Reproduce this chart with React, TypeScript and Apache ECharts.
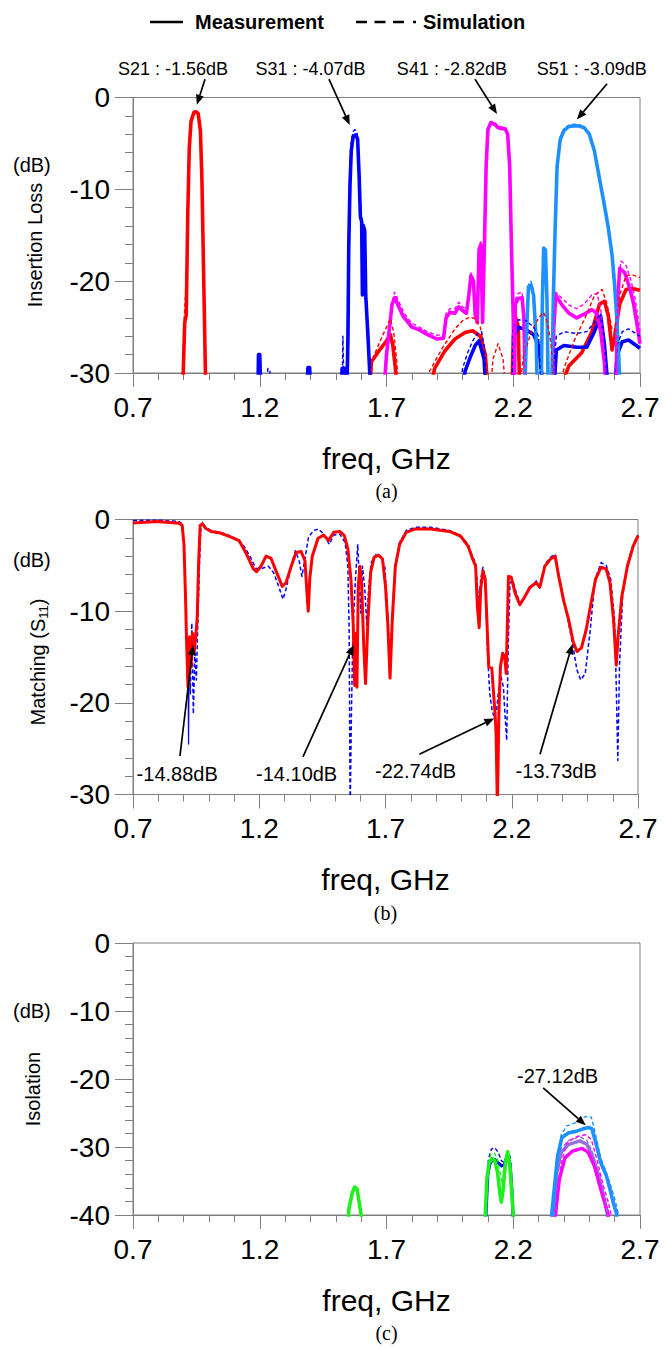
import React, { useEffect, useRef } from "react";
import * as echarts from "echarts";

type Pt = [number, number];
type Seg = Pt[];

const FONT = "'Liberation Sans', Arial, Helvetica, sans-serif";
const SERIF = "'Liberation Serif', 'Times New Roman', serif";

const RED = "#ff0000";
const BLUE = "#0000ff";
const MAGENTA = "#ff00ff";
const LBLUE = "#1e90ff";
const GREEN = "#1ef01e";
const PURPLE = "#9370db";

const X_MIN = 0.7;
const X_MAX = 2.7;
const X_STEP = 0.5;

// ---------- (a) Insertion loss ----------
const s21Meas: Seg[] = [
  [[0.896, -32], [0.904, -24.5], [0.91, -23.7], [0.916, -12.8], [0.922, -5.5], [0.929, -2.6], [0.94, -1.64], [0.949, -1.56], [0.957, -1.75], [0.966, -3.65], [0.972, -9.1], [0.978, -18.3], [0.987, -32]],
  [[1.635, -32], [1.64, -28.8], [1.67, -27.6], [1.7, -26.5], [1.715, -25.8], [1.725, -27], [1.735, -29.5], [1.742, -32]],
  [[1.87, -32], [1.89, -29.5], [1.93, -27.6], [1.97, -26.3], [2.01, -25.6], [2.04, -25.4], [2.07, -26], [2.09, -28], [2.1, -32]],
  [[2.195, -32], [2.2, -26], [2.21, -24], [2.22, -25], [2.225, -32]],
  [[2.38, -32], [2.42, -29.2], [2.47, -27.8], [2.51, -25.5], [2.54, -22.5], [2.56, -22.2], [2.575, -23.8], [2.59, -27.5], [2.6, -26], [2.62, -22.5], [2.645, -20.9], [2.67, -20.8], [2.7, -21]],
];
const s21Sim: Seg[] = [
  [[0.894, -32], [0.902, -24], [0.91, -20], [0.916, -11.5], [0.922, -5], [0.929, -2.4], [0.94, -1.5], [0.949, -1.45], [0.957, -1.65], [0.966, -3.5], [0.972, -8.8], [0.978, -18], [0.988, -32]],
  [[1.632, -32], [1.645, -28.5], [1.68, -26.2], [1.715, -24.1], [1.728, -25.5], [1.74, -28.5], [1.748, -32]],
  [[1.855, -32], [1.87, -29.8], [1.92, -27.3], [1.97, -25.2], [2.0, -24.3], [2.03, -23.9], [2.05, -24.1], [2.07, -25], [2.09, -28], [2.1, -32]],
  [[2.11, -32], [2.12, -28.5], [2.14, -26.8], [2.16, -28.5], [2.17, -32]],
  [[2.225, -32], [2.24, -28.2], [2.27, -25.6], [2.3, -24], [2.32, -23.4], [2.335, -24.5], [2.35, -27], [2.36, -32]],
  [[2.38, -32], [2.4, -29.5], [2.44, -26.5], [2.48, -24.2], [2.52, -21.6], [2.55, -20.9], [2.57, -22.5], [2.59, -25.3], [2.6, -25.5], [2.62, -21.5], [2.645, -19.4], [2.67, -19.3], [2.7, -19.6]],
];
const s31Meas: Seg[] = [
  [[1.193, -32], [1.195, -28], [1.2, -28], [1.202, -30], [1.205, -32]],
  [[1.385, -32], [1.39, -29.4], [1.397, -29.4], [1.4, -32]],
  [[1.52, -32], [1.525, -29.5], [1.535, -29.5], [1.54, -32]],
  [[1.544, -32], [1.548, -26], [1.551, -16.4], [1.556, -9.5], [1.561, -5.8], [1.568, -4.3], [1.578, -4.07], [1.586, -4.5], [1.592, -8.5], [1.597, -13], [1.602, -13.5], [1.605, -21.5], [1.609, -14], [1.614, -14.5], [1.618, -21.5], [1.626, -25.5], [1.634, -30], [1.637, -32]],
  [[2.0, -32], [2.01, -29.8], [2.03, -28.3], [2.05, -27], [2.065, -26.5], [2.075, -27.5], [2.085, -28.5], [2.092, -32]],
  [[2.2, -32], [2.205, -26], [2.22, -25], [2.25, -25.3], [2.28, -25.8], [2.3, -27], [2.32, -32]],
  [[2.36, -32], [2.37, -27.5], [2.4, -27], [2.45, -27.2], [2.49, -27.2], [2.52, -25.5], [2.545, -23.8], [2.56, -27], [2.575, -32]],
  [[2.6, -32], [2.61, -28], [2.63, -26.6], [2.655, -26.4], [2.7, -27.3]],
];
const s31Sim: Seg[] = [
  [[1.225, -32], [1.232, -29.5], [1.24, -29.8], [1.245, -32]],
  [[1.386, -32], [1.392, -29.6], [1.398, -29.8], [1.401, -32]],
  [[1.525, -32], [1.528, -26], [1.531, -30], [1.535, -32]],
  [[1.54, -32], [1.546, -25], [1.55, -15], [1.555, -8.5], [1.561, -5], [1.568, -3.7], [1.576, -3.5], [1.585, -4], [1.592, -8], [1.597, -12.5], [1.603, -13.2], [1.606, -21], [1.61, -13.8], [1.615, -14.8], [1.62, -22], [1.628, -26], [1.636, -30], [1.64, -32]],
  [[1.99, -32], [2.0, -29.5], [2.02, -27.8], [2.04, -26.5], [2.06, -25.7], [2.075, -25.5], [2.085, -27], [2.095, -32]],
  [[2.195, -32], [2.2, -25], [2.22, -24.2], [2.25, -24.3], [2.28, -25], [2.3, -26], [2.31, -32]],
  [[2.35, -32], [2.37, -26], [2.4, -25.5], [2.45, -25.7], [2.49, -25.5], [2.52, -24.5], [2.545, -23.5], [2.56, -26.5], [2.57, -32]],
  [[2.6, -32], [2.61, -27], [2.63, -25.5], [2.655, -25.2], [2.7, -26]],
];
const s41Meas: Seg[] = [
  [[1.69, -32], [1.7, -28], [1.71, -25.5], [1.722, -22.5], [1.733, -21.8], [1.745, -22.6], [1.765, -23.8], [1.8, -25], [1.83, -25.3], [1.86, -25.8], [1.9, -26.3], [1.925, -26.2], [1.935, -24], [1.95, -23.4], [1.97, -23.5], [1.985, -22.8], [2.0, -23.2], [2.015, -23.5], [2.025, -21.5], [2.033, -19.4], [2.043, -20], [2.05, -23.7], [2.058, -24.5], [2.065, -16.6], [2.072, -16], [2.079, -24.5], [2.086, -16.5], [2.093, -7.5], [2.1, -3.5], [2.11, -2.82], [2.12, -2.82], [2.13, -3.0], [2.14, -3.3], [2.155, -3.4], [2.168, -3.4], [2.178, -4], [2.186, -7.5], [2.193, -16.4], [2.2, -24], [2.204, -32]],
  [[2.205, -32], [2.208, -22.5], [2.22, -21.9], [2.235, -21.8], [2.242, -24], [2.248, -32]],
  [[2.355, -32], [2.36, -25], [2.368, -21.5], [2.39, -22.5], [2.42, -23.5], [2.45, -24], [2.48, -23.6], [2.51, -23.1], [2.53, -23.5], [2.545, -25.5], [2.56, -29], [2.565, -32]],
  [[2.605, -32], [2.612, -22], [2.62, -18.6], [2.64, -19.1], [2.66, -20.8], [2.675, -22.5], [2.69, -25], [2.7, -26.8]],
];
const s41Sim: Seg[] = [
  [[1.69, -32], [1.705, -27], [1.72, -22.5], [1.732, -21.2], [1.745, -22], [1.77, -23.5], [1.8, -24.6], [1.83, -25], [1.86, -25.5], [1.9, -25.9], [1.925, -25.8], [1.935, -23.5], [1.95, -23], [1.97, -23], [1.985, -22.3], [2.0, -22.8], [2.015, -23], [2.025, -21.2], [2.033, -19.1], [2.043, -19.7], [2.05, -23.2], [2.058, -24], [2.065, -16.3], [2.072, -15.7], [2.079, -24], [2.086, -16.2], [2.093, -7.2], [2.1, -3.3], [2.11, -2.6], [2.12, -2.6], [2.13, -2.8], [2.14, -3.1], [2.155, -3.2], [2.168, -3.2], [2.178, -3.8], [2.186, -7.2], [2.193, -16], [2.2, -23.5], [2.204, -32]],
  [[2.205, -32], [2.208, -22], [2.22, -21.3], [2.235, -21.2], [2.242, -23.5], [2.248, -32]],
  [[2.355, -32], [2.36, -24], [2.368, -21.2], [2.39, -21.8], [2.42, -22.6], [2.45, -23], [2.48, -22.5], [2.51, -21.5], [2.53, -21.3], [2.545, -23], [2.56, -28], [2.565, -32]],
  [[2.605, -32], [2.612, -21], [2.625, -17.8], [2.645, -18.3], [2.665, -20], [2.68, -21.8], [2.69, -23.5], [2.7, -25.5]],
];
const s51Meas: Seg[] = [
  [[2.245, -32], [2.252, -26], [2.26, -20.6], [2.27, -20.4], [2.28, -21.5], [2.29, -26], [2.295, -32]],
  [[2.31, -32], [2.315, -22], [2.32, -16.4], [2.327, -16.6], [2.333, -22], [2.338, -32]],
  [[2.352, -32], [2.358, -22], [2.365, -14.5], [2.373, -7.5], [2.385, -4.6], [2.4, -3.6], [2.42, -3.15], [2.44, -3.09], [2.46, -3.1], [2.48, -3.3], [2.5, -4], [2.52, -5.8], [2.54, -8.8], [2.56, -11.8], [2.575, -14.2], [2.59, -17.2], [2.6, -20.5], [2.608, -23.9], [2.615, -27.5], [2.622, -32]],
];
const s51Sim: Seg[] = [
  [[2.246, -32], [2.253, -25], [2.261, -20.2], [2.27, -20], [2.28, -21], [2.29, -25.5], [2.295, -32]],
  [[2.352, -32], [2.358, -21], [2.365, -14], [2.373, -7.2], [2.385, -4.3], [2.4, -3.4], [2.42, -3.0], [2.44, -2.9], [2.46, -2.95], [2.48, -3.2], [2.5, -3.9], [2.52, -5.6], [2.54, -8.5], [2.56, -11.5], [2.575, -14], [2.59, -17], [2.6, -20.3], [2.608, -23.7], [2.615, -27.3], [2.622, -32]],
];

// ---------- (b) Matching S11 ----------
const s11Meas: Seg[] = [[
  [0.7, -0.37], [0.794, -0.22], [0.883, -0.4], [0.895, -0.66], [0.902, -2.86], [0.908, -8.4], [0.912, -13.1], [0.918, -18.3], [0.924, -12.8], [0.93, -16.1], [0.936, -12.4], [0.942, -14.6], [0.948, -12.8], [0.954, -10.9], [0.96, -4.7], [0.966, -0.66], [0.975, -0.48], [0.987, -0.95], [1.009, -1.3], [1.046, -1.47], [1.091, -1.94], [1.12, -2.3], [1.15, -3.8], [1.177, -5.4], [1.189, -5.7], [1.207, -5.1], [1.227, -4.0], [1.247, -4.25], [1.269, -5.8], [1.291, -7.3], [1.306, -6.9], [1.329, -4.9], [1.346, -3.6], [1.366, -3.5], [1.381, -4.5], [1.388, -7.6], [1.394, -10.0], [1.4, -6.5], [1.41, -4.0], [1.433, -2.05], [1.455, -1.7], [1.474, -2.3], [1.495, -1.4], [1.519, -1.3], [1.537, -1.76], [1.551, -3.2], [1.563, -6.5], [1.572, -11.3], [1.578, -18.1], [1.582, -12.4], [1.587, -18.3], [1.592, -7.3], [1.599, -5.1], [1.606, -7.3], [1.614, -13.9], [1.621, -17.9], [1.63, -11.3], [1.641, -5.8], [1.655, -4.1], [1.673, -3.9], [1.688, -4.3], [1.7, -7.3], [1.709, -11.3], [1.718, -17.3], [1.727, -10.9], [1.739, -5.1], [1.756, -2.7], [1.782, -1.4], [1.819, -1.03], [1.878, -1.03], [1.953, -1.3], [1.997, -1.8], [2.027, -2.9], [2.045, -4.3], [2.057, -5.1], [2.064, -9.5], [2.071, -11.8], [2.077, -7.6], [2.086, -5.6], [2.095, -6.5], [2.103, -12.0], [2.109, -16.1], [2.121, -16.2], [2.128, -19.0], [2.134, -21.2], [2.138, -23.4], [2.143, -31.5], [2.149, -21.2], [2.155, -16.1], [2.164, -14.6], [2.172, -15], [2.178, -16.8], [2.187, -6.2], [2.198, -6.3], [2.213, -8.0], [2.232, -9.3], [2.25, -8.5], [2.272, -7.4], [2.297, -6.9], [2.311, -7.4], [2.331, -5.1], [2.354, -4.3], [2.372, -4.0], [2.386, -6.2], [2.406, -8.9], [2.425, -10.9], [2.443, -13.3], [2.458, -14.4], [2.476, -14.0], [2.495, -12.0], [2.514, -9.1], [2.532, -6.5], [2.554, -5.2], [2.574, -5.4], [2.589, -6.9], [2.603, -10.9], [2.614, -15.9], [2.621, -12.8], [2.636, -8.4], [2.658, -5.1], [2.681, -2.9], [2.7, -1.76],
]];
const s11Sim: Seg[] = [[
  [0.7, -0.11], [0.794, -0.07], [0.883, -0.22], [0.895, -0.48], [0.902, -2.5], [0.91, -10.2], [0.915, -17.5], [0.921, -14.6], [0.927, -19.0], [0.933, -11.3], [0.939, -21.2], [0.945, -14.6], [0.951, -17.5], [0.957, -10.9], [0.963, -5.1], [0.969, -0.66], [0.976, -0.3], [0.987, -0.84], [1.009, -1.2], [1.046, -1.4], [1.091, -1.83], [1.135, -2.7], [1.165, -4.1], [1.187, -5.35], [1.21, -5.35], [1.236, -5.1], [1.257, -5.8], [1.277, -7.3], [1.294, -8.7], [1.306, -7.6], [1.326, -5.1], [1.343, -3.4], [1.358, -4.5], [1.369, -6.2], [1.381, -4.3], [1.395, -1.94], [1.415, -1.2], [1.435, -1.03], [1.455, -1.6], [1.477, -2.7], [1.495, -1.7], [1.519, -1.6], [1.54, -2.5], [1.551, -5.1], [1.556, -12.0], [1.56, -32], [1.565, -21.2], [1.571, -12], [1.581, -6.5], [1.59, -2.7], [1.596, -6.5], [1.602, -10.2], [1.609, -5.1], [1.618, -7.6], [1.626, -11.5], [1.633, -7.6], [1.643, -4.7], [1.663, -3.8], [1.681, -4.0], [1.697, -5.1], [1.707, -9.5], [1.718, -17.0], [1.727, -10.2], [1.739, -4.9], [1.756, -2.5], [1.782, -1.2], [1.819, -0.84], [1.878, -0.84], [1.953, -1.2], [1.997, -1.76], [2.027, -2.7], [2.045, -4.1], [2.057, -4.7], [2.066, -8.0], [2.071, -8.7], [2.077, -6.5], [2.086, -5.2], [2.095, -6.5], [2.104, -14.6], [2.113, -19.0], [2.122, -20.8], [2.131, -21.6], [2.14, -20.8], [2.149, -18.3], [2.158, -17.2], [2.167, -18.3], [2.173, -21.2], [2.18, -24.1], [2.186, -13.9], [2.193, -6.9], [2.205, -6.7], [2.22, -8.2], [2.235, -9.1], [2.257, -8.2], [2.28, -7.3], [2.297, -6.7], [2.311, -7.2], [2.331, -4.9], [2.354, -4.1], [2.372, -3.8], [2.386, -6.0], [2.406, -8.7], [2.425, -11.3], [2.443, -13.9], [2.458, -16.4], [2.473, -17.5], [2.491, -16.8], [2.511, -12.0], [2.53, -6.5], [2.554, -4.7], [2.574, -5.0], [2.592, -6.5], [2.607, -10.9], [2.614, -18.3], [2.62, -26.3], [2.627, -15.7], [2.639, -8.4], [2.658, -4.9], [2.681, -2.7], [2.7, -1.7],
]];
const s11SimSpike: Seg[] = [[[0.917, -13], [0.92, -24.5], [0.923, -13]]];

// ---------- (c) Isolation ----------
const isoGreenMeas: Seg[] = [
  [[1.547, -42], [1.552, -39], [1.558, -38], [1.566, -36.6], [1.575, -35.9], [1.584, -36.2], [1.592, -38.1], [1.6, -40], [1.603, -42]],
  [[2.088, -42], [2.09, -39.8], [2.096, -34.7], [2.105, -32.3], [2.116, -31.7], [2.127, -32.0], [2.138, -33.7], [2.147, -36.7], [2.153, -38.1], [2.16, -36.2], [2.169, -32.3], [2.178, -30.7], [2.187, -32.8], [2.194, -36.7], [2.2, -39.8], [2.202, -42]],
];
const isoGreenSim: Seg[] = [
  [[1.549, -42], [1.555, -38.5], [1.566, -36.3], [1.576, -35.7], [1.586, -36.3], [1.596, -39], [1.601, -42]],
  [[2.089, -42], [2.093, -38], [2.101, -32.8], [2.111, -31.1], [2.126, -30.9], [2.138, -31.8], [2.148, -33.7], [2.156, -35.4], [2.165, -33.7], [2.175, -30.9], [2.185, -31.8], [2.194, -35.7], [2.2, -39.5], [2.203, -42]],
];
const isoBlueMeas: Seg[] = [
  [[2.09, -42], [2.1, -34], [2.11, -32.2], [2.125, -31.8], [2.14, -32.3], [2.155, -32.8], [2.165, -32.6], [2.177, -31.2], [2.188, -32.5], [2.196, -37], [2.2, -42]],
];
const isoBlueSim: Seg[] = [
  [[2.089, -42], [2.093, -37], [2.102, -31.8], [2.114, -30.3], [2.127, -30.1], [2.141, -30.8], [2.153, -32.0], [2.165, -32.3], [2.176, -30.7], [2.187, -31.3], [2.194, -35.7], [2.2, -39.8], [2.202, -42]],
];
const isoLBlueMeas: Seg[] = [
  [[2.35, -42], [2.352, -39.8], [2.363, -35.7], [2.375, -31.3], [2.392, -28.6], [2.419, -27.9], [2.448, -27.7], [2.478, -27.3], [2.496, -27.12], [2.51, -27.3], [2.526, -29.4], [2.545, -32.3], [2.567, -34.2], [2.585, -36.7], [2.596, -38.4], [2.608, -39.8], [2.611, -42]],
];
const isoLBlueSim: Seg[] = [
  [[2.358, -42], [2.362, -39.8], [2.375, -31.8], [2.389, -28.2], [2.411, -26.9], [2.448, -26.4], [2.486, -25.5], [2.508, -25.6], [2.523, -27.9], [2.545, -31.6], [2.567, -33.7], [2.589, -36.2], [2.604, -38.1], [2.614, -39.8], [2.617, -42]],
];
const isoPurpleMeas: Seg[] = [
  [[2.357, -42], [2.36, -39.8], [2.372, -33.7], [2.389, -30.8], [2.419, -29.6], [2.463, -29.1], [2.49, -29.6], [2.51, -31.1], [2.537, -34.2], [2.559, -37.6], [2.571, -39.8], [2.574, -42]],
];
const isoPurpleSim: Seg[] = [
  [[2.36, -42], [2.363, -39], [2.372, -33], [2.389, -30.2], [2.419, -29], [2.463, -28.5], [2.49, -29], [2.51, -30.5], [2.537, -33.8], [2.559, -37.2], [2.573, -40], [2.576, -42]],
];
const isoMagentaMeas: Seg[] = [
  [[2.364, -42], [2.367, -39.8], [2.382, -34.7], [2.404, -31.6], [2.434, -30.6], [2.471, -30.2], [2.496, -30.8], [2.52, -32.8], [2.545, -36.2], [2.564, -38.6], [2.574, -39.8], [2.577, -42]],
];
const isoMagentaSim: Seg[] = [
  [[2.368, -42], [2.371, -39.8], [2.386, -32.8], [2.411, -29.4], [2.448, -28.5], [2.486, -28.2], [2.508, -28.9], [2.53, -31.8], [2.555, -35.7], [2.575, -38.1], [2.585, -39.8], [2.588, -42]],
];

// ---------- annotations (data coordinates) ----------
type Annot = { text: string; at: Pt; from: Pt; to: Pt };
const annotA: Annot[] = [
  { text: "S21 : -1.56dB", at: [0.858, 3.1], from: [0.984, 2.0], to: [0.952, -0.8] },
  { text: "S31 : -4.07dB", at: [1.4, 3.1], from: [1.473, 2.0], to: [1.555, -3.0] },
  { text: "S41 : -2.82dB", at: [1.958, 3.1], from: [2.049, 2.0], to: [2.136, -1.8] },
  { text: "S51 : -3.09dB", at: [2.51, 3.1], from: [2.57, 1.5], to: [2.451, -2.4] },
];
const annotB: Annot[] = [
  { text: "-14.88dB", at: [0.875, -27.8], from: [0.886, -25.8], to: [0.938, -13.7] },
  { text: "-14.10dB", at: [1.348, -27.8], from: [1.373, -25.9], to: [1.574, -13.7] },
  { text: "-22.74dB", at: [1.819, -27.4], from: [1.834, -25.6], to: [2.131, -21.7] },
  { text: "-13.73dB", at: [2.376, -27.4], from: [2.312, -25.6], to: [2.44, -13.6] },
];
const annotC: Annot[] = [
  { text: "-27.12dB", at: [2.375, -19.6], from: [2.318, -21.3], to: [2.486, -26.8] },
];

type Curve = { segs: Seg[]; color: string; sim: boolean; width: number };

const curvesA: Curve[] = [
  { segs: s21Meas, color: RED, sim: false, width: 3.6 },
  { segs: s31Meas, color: BLUE, sim: false, width: 3.6 },
  { segs: s41Meas, color: MAGENTA, sim: false, width: 3.6 },
  { segs: s51Meas, color: LBLUE, sim: false, width: 3.6 },
  { segs: s21Sim, color: RED, sim: true, width: 1.4 },
  { segs: s31Sim, color: BLUE, sim: true, width: 1.4 },
  { segs: s41Sim, color: MAGENTA, sim: true, width: 1.4 },
  { segs: s51Sim, color: LBLUE, sim: true, width: 1.4 },
];
const curvesB: Curve[] = [
  { segs: s11Sim, color: BLUE, sim: true, width: 1.5 },
  { segs: s11SimSpike, color: BLUE, sim: false, width: 1.2 },
  { segs: s11Meas, color: RED, sim: false, width: 3 },
];
const curvesC: Curve[] = [
  { segs: isoPurpleMeas, color: PURPLE, sim: false, width: 3.4 },
  { segs: isoMagentaMeas, color: MAGENTA, sim: false, width: 3.4 },
  { segs: isoPurpleSim, color: PURPLE, sim: true, width: 1.4 },
  { segs: isoMagentaSim, color: MAGENTA, sim: true, width: 1.4 },
  { segs: isoLBlueMeas, color: LBLUE, sim: false, width: 3.6 },
  { segs: isoLBlueSim, color: LBLUE, sim: true, width: 1.4 },
  { segs: isoBlueMeas, color: BLUE, sim: false, width: 3 },
  { segs: isoBlueSim, color: BLUE, sim: true, width: 1.4 },
  { segs: isoGreenMeas, color: GREEN, sim: false, width: 3.6 },
  { segs: isoGreenSim, color: GREEN, sim: true, width: 1.4 },
];

const GRIDS = [
  { left: 133, top: 97.5, width: 507, height: 275.5, yMin: -30 },
  { left: 133, top: 519.5, width: 505, height: 275, yMin: -30 },
  { left: 133, top: 943, width: 507, height: 272, yMin: -40 },
];

const GRAY = "#7f7f7f";

function buildSeries(curves: Curve[], g: number) {
  const out: any[] = [];
  curves.forEach((c, ci) => {
    c.segs.forEach((seg) => {
      out.push({
        type: "line",
        xAxisIndex: g,
        yAxisIndex: g,
        data: seg,
        symbol: "none",
        showSymbol: false,
        clip: true,
        silent: true,
        z: 2 + ci * 0.01,
        lineStyle: {
          color: c.color,
          width: c.width,
          type: c.sim ? [4, 2.5] : "solid",
          cap: "butt",
          join: "round",
        },
      });
    });
  });
  return out;
}

export default function App() {
  const ref = useRef<HTMLDivElement | null>(null);

  useEffect(() => {
    if (!ref.current) return;
    const chart = echarts.init(ref.current, undefined, { renderer: "svg" });

    const grid = GRIDS.map((g) => ({
      left: g.left,
      top: g.top,
      width: g.width,
      height: g.height,
      show: true,
      borderColor: GRAY,
      borderWidth: 1,
      backgroundColor: "transparent",
      containLabel: false,
    }));

    const xAxis = GRIDS.map((g, i) => ({
      type: "value",
      gridIndex: i,
      min: X_MIN,
      max: X_MAX,
      interval: X_STEP,
      name: "freq, GHz",
      nameLocation: "middle",
      nameGap: 70,
      nameTextStyle: { fontFamily: FONT, fontSize: 30, color: "#000" },
      axisLine: { show: true, onZero: false, lineStyle: { color: GRAY, width: 1 } },
      axisTick: { show: true, length: 14, lineStyle: { color: GRAY } },
      minorTick: { show: true, splitNumber: 5, length: 7, lineStyle: { color: GRAY } },
      splitLine: { show: false },
      minorSplitLine: { show: false },
      axisLabel: {
        fontFamily: FONT,
        fontSize: 28,
        color: "#000",
        margin: 20,
        formatter: (v: number) => v.toFixed(1),
      },
    }));

    const yAxis = GRIDS.map((g, i) => ({
      type: "value",
      gridIndex: i,
      min: g.yMin,
      max: 0,
      interval: 10,
      axisLine: { show: true, onZero: false, lineStyle: { color: GRAY, width: 1 } },
      axisTick: { show: true, length: 18, lineStyle: { color: GRAY } },
      minorTick: { show: true, splitNumber: 5, length: 8, lineStyle: { color: GRAY } },
      splitLine: { show: false },
      minorSplitLine: { show: false },
      axisLabel: { fontFamily: FONT, fontSize: 28, color: "#000", margin: 23 },
    }));

    const series = [
      ...buildSeries(curvesA, 0),
      ...buildSeries(curvesB, 1),
      ...buildSeries(curvesC, 2),
    ];

    chart.setOption({
      animation: false,
      backgroundColor: "#ffffff",
      grid,
      xAxis,
      yAxis,
      series,
    });

    const graphics: any[] = [];

    // legend
    graphics.push(
      { type: "line", shape: { x1: 150, y1: 22, x2: 183, y2: 22 }, style: { stroke: "#000", lineWidth: 2.6 } },
      { type: "text", x: 195, y: 22, style: { text: "Measurement", fontFamily: FONT, fontSize: 20, fontWeight: "bold", fill: "#000", verticalAlign: "middle", align: "left" } },
      { type: "line", shape: { x1: 356, y1: 22, x2: 417, y2: 22 }, style: { stroke: "#000", lineWidth: 2.6, lineDash: [11, 7.5, 11, 7.5, 11, 9, 3, 40] } },
      { type: "text", x: 423, y: 22, style: { text: "Simulation", fontFamily: FONT, fontSize: 20, fontWeight: "bold", fill: "#000", verticalAlign: "middle", align: "left" } },
    );

    // y-axis names
    const yNames = [
      { dbY: 165, nameX: 35, nameY: 245, text: "Insertion Loss", rich: false },
      { dbY: 560, nameX: 38, nameY: 662, text: "{a|Matching (S}{s|11}{a|)}", rich: true },
      { dbY: 1011, nameX: 33, nameY: 1089, text: "Isolation", rich: false },
    ];
    yNames.forEach((n) => {
      graphics.push({ type: "text", x: 13, y: n.dbY, style: { text: "(dB)", fontFamily: FONT, fontSize: 20, fill: "#000", verticalAlign: "middle", align: "left" } });
      graphics.push({
        type: "text",
        x: n.nameX,
        y: n.nameY,
        rotation: Math.PI / 2,
        style: n.rich
          ? {
              text: n.text,
              align: "center",
              verticalAlign: "middle",
              fill: "#000",
              rich: {
                a: { fontFamily: FONT, fontSize: 20, fill: "#000" },
                s: { fontFamily: FONT, fontSize: 13, fill: "#000", padding: [10, 0, 0, 0] },
              },
            }
          : { text: n.text, fontFamily: FONT, fontSize: 20, fill: "#000", align: "center", verticalAlign: "middle" },
      });
    });

    // captions
    ["(a)", "(b)", "(c)"].forEach((t, i) => {
      const g = GRIDS[i];
      graphics.push({
        type: "text",
        x: g.left + g.width / 2,
        y: g.top + g.height + 118,
        style: { text: t, fontFamily: SERIF, fontSize: 20, fill: "#000", align: "center", verticalAlign: "middle" },
      });
    });

    // annotations with arrows
    const addAnnots = (list: Annot[], g: number, fontSize: number) => {
      list.forEach((a) => {
        const p = chart.convertToPixel({ gridIndex: g } as any, a.at) as number[];
        const f = chart.convertToPixel({ gridIndex: g } as any, a.from) as number[];
        const t = chart.convertToPixel({ gridIndex: g } as any, a.to) as number[];
        graphics.push({ type: "text", x: p[0], y: p[1], z: 50, style: { text: a.text, fontFamily: FONT, fontSize, fill: "#000", align: "center", verticalAlign: "middle" } });
        const dx = t[0] - f[0];
        const dy = t[1] - f[1];
        const len = Math.sqrt(dx * dx + dy * dy) || 1;
        const ux = dx / len;
        const uy = dy / len;
        const hl = 10;
        const hw = 4;
        const bx = t[0] - ux * hl;
        const by = t[1] - uy * hl;
        graphics.push({ type: "line", z: 50, shape: { x1: f[0], y1: f[1], x2: bx, y2: by }, style: { stroke: "#000", lineWidth: 1.7 } });
        graphics.push({
          type: "polygon",
          z: 50,
          shape: { points: [[t[0], t[1]], [bx - uy * hw, by + ux * hw], [bx + uy * hw, by - ux * hw]] },
          style: { fill: "#000" },
        });
      });
    };
    addAnnots(annotA, 0, 18);
    addAnnots(annotB, 1, 20);
    addAnnots(annotC, 2, 20);

    chart.setOption({ graphic: graphics });

    return () => {
      chart.dispose();
    };
  }, []);

  return (
    <div
      ref={ref}
      style={{ position: "absolute", left: 0, top: 0, width: 670, height: 1348, background: "#fff" }}
    />
  );
}
